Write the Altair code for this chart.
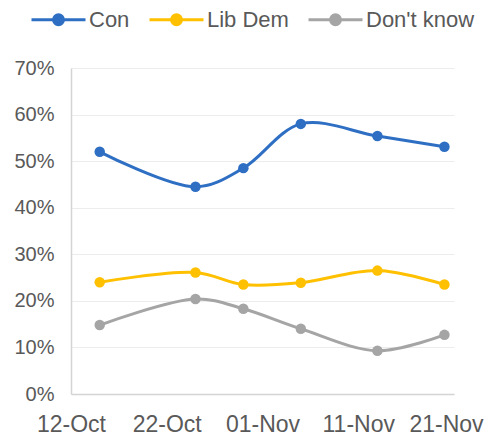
import altair as alt
import pandas as pd

dates = ["2019-10-15", "2019-10-25", "2019-10-30", "2019-11-05", "2019-11-13", "2019-11-20"]
con = [52.0, 44.5, 48.5, 58.0, 55.4, 53.1]
libdem = [24.0, 26.1, 23.5, 23.9, 26.5, 23.5]
dontknow = [14.8, 20.4, 18.3, 14.0, 9.3, 12.7]

series_names = ["Con", "Lib Dem", "Don't know"]
series_colors = ["#2E6FC4", "#FFC000", "#A5A5A5"]
x_ticks = ["2019-10-12", "2019-10-22", "2019-11-01", "2019-11-11", "2019-11-21"]
y_ticks = [0, 10, 20, 30, 40, 50, 60, 70]

rows = []
for name, vals in zip(series_names, [con, libdem, dontknow]):
    for d, v in zip(dates, vals):
        rows.append({"date": d, "value": v / 100.0, "series": name})
df = pd.DataFrame(rows)

x_enc = alt.X(
    "date:T",
    scale=alt.Scale(domain=[x_ticks[0], x_ticks[-1]]),
    axis=alt.Axis(
        values=x_ticks,
        format="%d-%b",
        title=None,
        labelFontSize=23,
        labelColor="#595959",
        labelPadding=19,
        labelFlush=False,
        labelOverlap=False,
        labelBound=False,
        labelOffset={
            "condition": {"test": "datum.index >= 0.99", "value": -8},
            "value": 0,
        },
        ticks=False,
        grid=False,
        domainColor="#D4D4D4",
        domainWidth=1.5,
        labelFont="Liberation Sans",
    ),
)
y_enc = alt.Y(
    "value:Q",
    scale=alt.Scale(domain=[0, 0.7]),
    axis=alt.Axis(
        values=[t / 100.0 for t in y_ticks],
        format=".0%",
        title=None,
        labelFontSize=20,
        labelColor="#595959",
        labelPadding=17,
        ticks=False,
        gridColor="#ECECEC",
        gridWidth=1.2,
        domainColor="#D4D4D4",
        domainWidth=1.5,
        labelFont="Liberation Sans",
    ),
)
color_enc = alt.Color(
    "series:N",
    scale=alt.Scale(domain=series_names, range=series_colors),
    legend=alt.Legend(
        title=None,
        orient="none",
        legendX=-41,
        legendY=-60,
        direction="horizontal",
        columns=3,
        symbolType="M-2.7,0H2.7M0.5,0A0.5,0.5 0 1,1 -0.5,0A0.5,0.5 0 1,1 0.5,0Z",
        symbolSize=400,
        symbolOffset=17,
        symbolStrokeWidth=3,
        labelFontSize=22,
        labelColor="#595959",
        labelFont="Liberation Sans",
        labelOffset=19,
        columnPadding=13,
    ),
)

base = alt.Chart(df)
lines = base.mark_line(strokeWidth=3, interpolate="catmull-rom").encode(
    x=x_enc, y=y_enc, color=color_enc
)
points = base.mark_point(filled=True, size=110, opacity=1).encode(
    x=x_enc, y=y_enc, color=color_enc
)

chart = (
    alt.layer(lines, points)
    .properties(
        width=383,
        height=326,
        autosize=alt.AutoSizeParams(type="none"),
        padding={"left": 63, "top": 60, "right": 30, "bottom": 44},
    )
    .configure_view(stroke=None)
)

chart.save("out.html", embed_options={"renderer": "svg", "actions": False})
